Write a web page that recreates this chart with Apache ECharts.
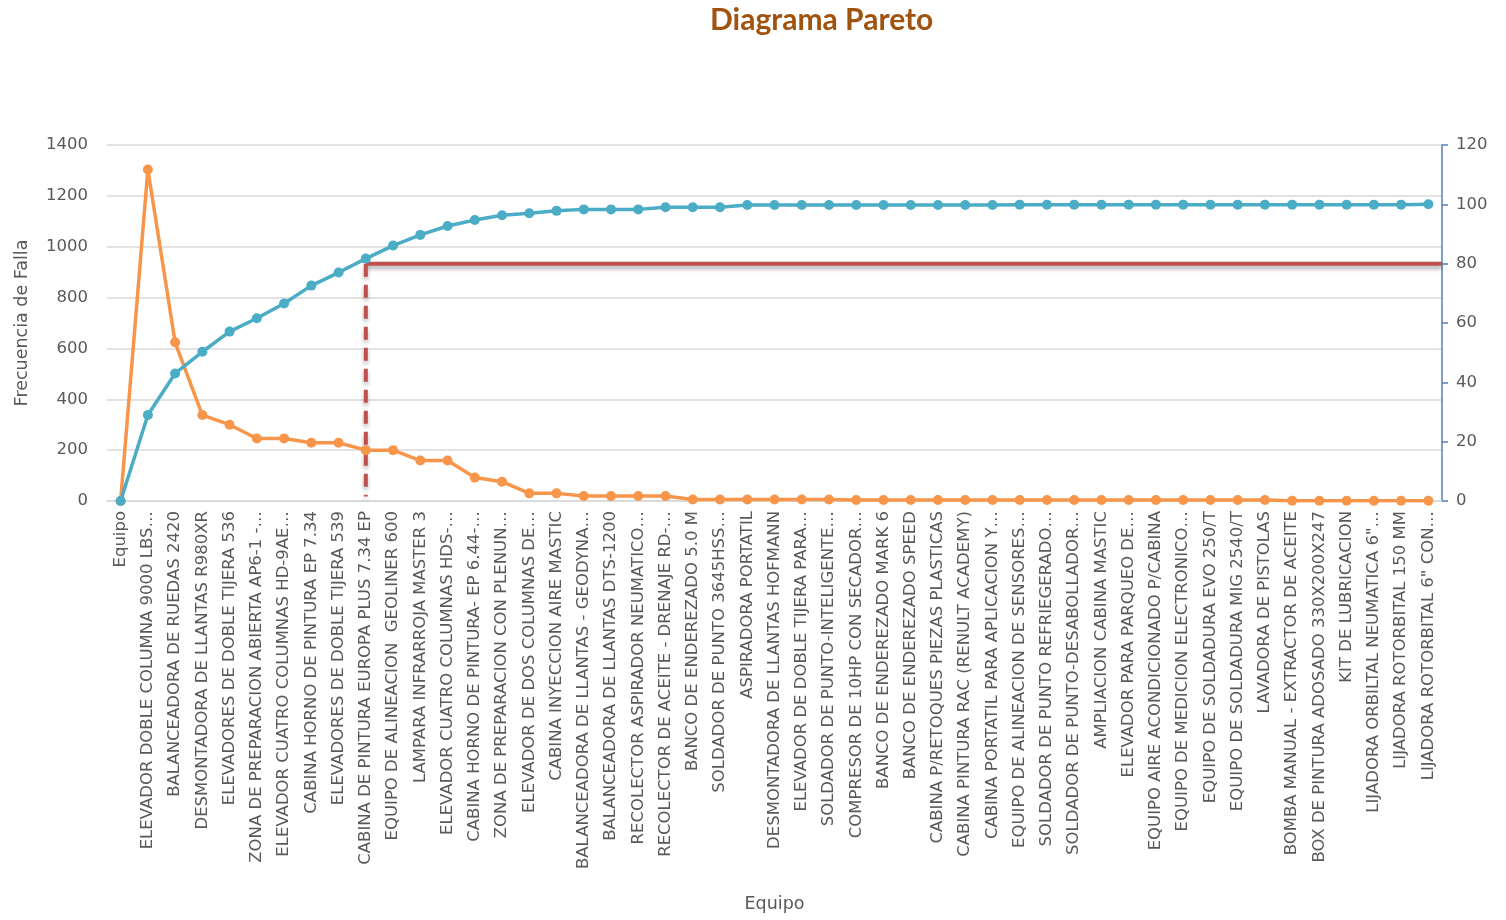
<!doctype html>
<html lang="es">
<head>
    <meta charset="UTF-8">
    <title>Diagrama Pareto</title>
    <script src="https://cdn.jsdelivr.net/npm/echarts@6/dist/echarts.min.js"></script>
    <style>
        html, body { margin: 0; padding: 0; background: #fff; }
    </style>
</head>
<body>
<div id="main" style="width: 1506px;height:920px;"></div>
<script>
    // equipos (eje x)
    var equipos = [
        'Equipo',
        'ELEVADOR DOBLE COLUMNA 9000 LBS…',
        'BALANCEADORA DE RUEDAS 2420',
        'DESMONTADORA DE LLANTAS R980XR',
        'ELEVADORES DE DOBLE TIJERA 536',
        'ZONA DE PREPARACION ABIERTA AP6-1 -…',
        'ELEVADOR CUATRO COLUMNAS HD-9AE…',
        'CABINA HORNO DE PINTURA EP 7.34',
        'ELEVADORES DE DOBLE TIJERA 539',
        'CABINA DE PINTURA EUROPA PLUS 7.34 EP',
        'EQUIPO DE ALINEACION  GEOLINER 600',
        'LAMPARA INFRARROJA MASTER 3',
        'ELEVADOR CUATRO COLUMNAS HDS-…',
        'CABINA HORNO DE PINTURA- EP 6.44-…',
        'ZONA DE PREPARACION CON PLENUN…',
        'ELEVADOR DE DOS COLUMNAS DE…',
        'CABINA INYECCION AIRE MASTIC',
        'BALANCEADORA DE LLANTAS - GEODYNA…',
        'BALANCEADORA DE LLANTAS DTS-1200',
        'RECOLECTOR ASPIRADOR NEUMATICO…',
        'RECOLECTOR DE ACEITE - DRENAJE RD-…',
        'BANCO DE ENDEREZADO 5.0 M',
        'SOLDADOR DE PUNTO 3645HSS…',
        'ASPIRADORA PORTATIL',
        'DESMONTADORA DE LLANTAS HOFMANN',
        'ELEVADOR DE DOBLE TIJERA PARA…',
        'SOLDADOR DE PUNTO-INTELIGENTE…',
        'COMPRESOR DE 10HP CON SECADOR…',
        'BANCO DE ENDEREZADO MARK 6',
        'BANCO DE ENDEREZADO SPEED',
        'CABINA P/RETOQUES PIEZAS PLASTICAS',
        'CABINA PINTURA RAC (RENULT ACADEMY)',
        'CABINA PORTATIL PARA APLICACION Y…',
        'EQUIPO DE ALINEACION DE SENSORES…',
        'SOLDADOR DE PUNTO REFRIEGERADO…',
        'SOLDADOR DE PUNTO-DESABOLLADOR…',
        'AMPLIACION CABINA MASTIC',
        'ELEVADOR PARA PARQUEO DE…',
        'EQUIPO AIRE ACONDICIONADO P/CABINA',
        'EQUIPO DE MEDICION ELECTRONICO…',
        'EQUIPO DE SOLDADURA EVO 250/T',
        'EQUIPO DE SOLDADURA MIG 2540/T',
        'LAVADORA DE PISTOLAS',
        'BOMBA MANUAL - EXTRACTOR DE ACEITE',
        'BOX DE PINTURA ADOSADO 330X200X247',
        'KIT DE LUBRICACION',
        'LIJADORA ORBILTAL NEUMATICA 6"…',
        'LIJADORA ROTORBITAL 150 MM',
        'LIJADORA ROTORBITAL 6" CON…'
    ];
    // frecuencia de falla (eje izquierdo)
    var frecuencia = [
        0, 1304, 624, 338, 300, 246, 246, 229, 229, 200,
        200, 159, 159, 92, 76, 30, 30, 20, 20, 20,
        20, 6, 6, 6, 6, 6, 6, 4, 4, 4,
        4, 4, 4, 4, 4, 4, 4, 4, 4, 4,
        4, 4, 4, 1, 1, 1, 1, 1, 1
    ];
    // porcentaje acumulado (eje derecho)
    var acumulado = [
        0, 29.0, 43.0, 50.3, 57.1, 61.6, 66.6, 72.6, 77.0, 81.7,
        86.1, 89.7, 92.7, 94.7, 96.3, 97.0, 97.8, 98.3, 98.3, 98.3,
        99.0, 99.0, 99.0, 99.8, 99.8, 99.8, 99.8, 99.8, 99.8, 99.8,
        99.8, 99.8, 99.8, 99.9, 99.9, 99.9, 99.9, 99.9, 99.9, 99.9,
        99.9, 99.9, 99.9, 99.9, 99.9, 99.9, 99.9, 99.9, 100
    ];
    var ticksIzq = [0, 1400, 200];
    var ticksDer = [0, 120, 20];
    var corteIdx = 9;   // equipo donde se alcanza el 80%
    var umbral = 80;

    var myChart = echarts.init(document.getElementById('main'));
    var fuente = '"DejaVu Sans"';
    var gris = '#595959';

    var option = {
        backgroundColor: '#fff',
        title: {
            text: 'Diagrama Pareto',
            left: 705,
            top: 0,
            textStyle: { fontFamily: 'Lato', fontSize: 30, fontWeight: 'bold', color: '#A0520F' }
        },
        grid: { left: 107, right: 64, top: 145, bottom: 419 },
        xAxis: [{
            type: 'category',
            data: equipos,
            boundaryGap: true,
            name: 'Equipo',
            nameLocation: 'middle',
            nameGap: 394,
            nameTextStyle: { fontFamily: fuente, fontSize: 17.5, color: gris },
            axisLine: { show: true, lineStyle: { color: '#d9d9d9', width: 1.5 } },
            axisTick: { show: false },
            axisLabel: { rotate: 90, interval: 0, fontFamily: fuente, fontSize: 16.5, color: gris, margin: 10 }
        }, {
            type: 'value',
            min: 0,
            max: equipos.length,
            show: false
        }],
        yAxis: [{
            type: 'value',
            min: ticksIzq[0], max: ticksIzq[1], interval: ticksIzq[2],
            name: 'Frecuencia de Falla',
            nameLocation: 'middle',
            nameGap: 76,
            nameTextStyle: { fontFamily: fuente, fontSize: 17.5, color: gris },
            axisLine: { show: false },
            axisTick: { show: false },
            axisLabel: {
                fontFamily: fuente, fontSize: 16.5, color: gris, margin: 19,
                formatter: function (v) { return String(v); }
            },
            splitLine: { lineStyle: { color: '#d9d9d9', width: 1.5 } }
        }, {
            type: 'value',
            min: ticksDer[0], max: ticksDer[1], interval: ticksDer[2],
            position: 'right',
            axisLine: { show: true, lineStyle: { color: '#4F81BD', width: 1.5 } },
            axisTick: { show: true, length: 6, lineStyle: { color: '#4F81BD', width: 1.5 } },
            axisLabel: { fontFamily: fuente, fontSize: 16.5, color: gris, margin: 14 },
            splitLine: { show: false }
        }],
        series: [{
            name: 'Frecuencia',
            type: 'line',
            data: frecuencia,
            symbol: 'circle',
            symbolSize: 10,
            lineStyle: { color: '#F7964A', width: 3.5 },
            itemStyle: { color: '#F7964A' },
            z: 3
        }, {
            name: '% Acumulado',
            type: 'line',
            yAxisIndex: 1,
            data: acumulado,
            symbol: 'circle',
            symbolSize: 10,
            lineStyle: { color: '#4BACC6', width: 3.5 },
            itemStyle: { color: '#4BACC6' },
            z: 4
        }, {
            name: '80%',
            type: 'line',
            xAxisIndex: 1,
            yAxisIndex: 1,
            data: [[corteIdx + 0.5, umbral], [equipos.length, umbral]],
            symbol: 'none',
            lineStyle: {
                color: '#C0504D', width: 4,
                shadowBlur: 4, shadowColor: 'rgba(0,0,0,0.35)', shadowOffsetY: 3
            },
            z: 2
        }, {
            name: 'corte',
            type: 'line',
            xAxisIndex: 1,
            yAxisIndex: 1,
            data: [[corteIdx + 0.5, umbral], [corteIdx + 0.5, 1.5]],
            symbol: 'none',
            lineStyle: {
                color: '#C0504D', width: 4, type: [13, 8],
                shadowBlur: 4, shadowColor: 'rgba(0,0,0,0.3)', shadowOffsetY: 3
            },
            z: 2
        }]
    };
    myChart.setOption(option);
</script>
</body>
</html>
